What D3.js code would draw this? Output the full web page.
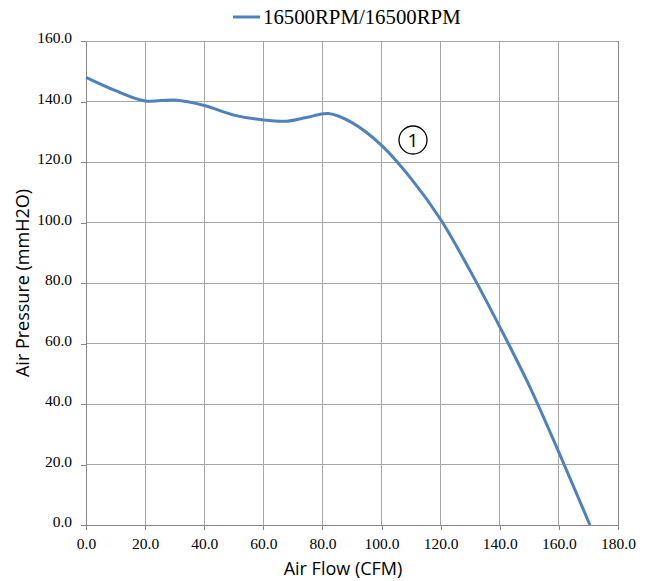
<!DOCTYPE html>
<html><head><meta charset="utf-8">
<script src="https://cdn.jsdelivr.net/npm/d3@7"></script>
<style>body{margin:0;background:#fff}</style>
</head><body>
<svg id="c" width="649" height="581"></svg>
<script>
const flow = [0, 10, 20, 30, 40, 50, 60, 68, 75, 82, 90, 100, 110, 120, 130, 140, 150, 160, 170.5];
const pressure = [148, 143.6, 140.2, 140.5, 138.7, 135.5, 133.9, 133.5, 134.8, 136, 133, 125.5, 114.5, 101, 84, 65.5, 46, 24, 0];
const xTicks = [0, 20, 40, 60, 80, 100, 120, 140, 160, 180];
const yTicks = [0, 20, 40, 60, 80, 100, 120, 140, 160];
const seriesName = "16500RPM/16500RPM";

const svg = d3.select("#c");
const L = 86, R = 618, T = 41, B = 525;
const x = d3.scaleLinear().domain([0, 180]).range([L, R]);
const y = d3.scaleLinear().domain([0, 160]).range([B, T]);

// grid
svg.append("g").selectAll("line").data(xTicks.slice(1)).join("line")
  .attr("x1", d => x(d)).attr("x2", d => x(d)).attr("y1", T).attr("y2", B)
  .attr("stroke", "#a6a6a6").attr("stroke-width", 1).attr("shape-rendering", "crispEdges");
svg.append("g").selectAll("line").data(yTicks.slice(1)).join("line")
  .attr("x1", L).attr("x2", R).attr("y1", d => y(d)).attr("y2", d => y(d))
  .attr("stroke", "#a6a6a6").attr("stroke-width", 1).attr("shape-rendering", "crispEdges");

// axes
const xa = svg.append("g").attr("transform", `translate(0,${B})`)
  .call(d3.axisBottom(x).tickValues(xTicks).tickFormat(d3.format(".1f")).tickSize(5).tickSizeOuter(0));
const ya = svg.append("g").attr("transform", `translate(${L},0)`)
  .call(d3.axisLeft(y).tickValues(yTicks).tickFormat(d3.format(".1f")).tickSize(5).tickSizeOuter(0));
[xa, ya].forEach(a => {
  a.select(".domain").attr("stroke", "#868686").attr("shape-rendering", "crispEdges");
  a.selectAll(".tick line").attr("stroke", "#868686").attr("shape-rendering", "crispEdges");
  a.selectAll("text").attr("font-family", "Liberation Serif, serif").attr("font-size", 15.5).attr("fill", "#000");
});
xa.selectAll("text").attr("dy", "1.0em");
ya.selectAll("text").attr("dx", "-6").attr("dy", "0.1em");
// right border / top
svg.append("line").attr("x1", R).attr("x2", R).attr("y1", T).attr("y2", B)
  .attr("stroke", "#868686").attr("shape-rendering", "crispEdges");
svg.append("line").attr("x1", L).attr("x2", R).attr("y1", T).attr("y2", T)
  .attr("stroke", "#a6a6a6").attr("shape-rendering", "crispEdges");

// curve
const data = flow.map((f, i) => [f, pressure[i]]);
svg.append("path").datum(data)
  .attr("d", d3.line().x(d => x(d[0])).y(d => y(d[1])).curve(d3.curveCatmullRom.alpha(0.5)))
  .attr("fill", "none").attr("stroke", "#4f81bd").attr("stroke-width", 3);

// annotation
svg.append("circle").attr("cx", 413).attr("cy", 140).attr("r", 14)
  .attr("fill", "none").attr("stroke", "#000").attr("stroke-width", 1.3);
svg.append("text").attr("x", 413).attr("y", 147).attr("text-anchor", "middle")
  .attr("font-family", "Open Sans, sans-serif").attr("font-size", 19).text("1");

// legend
svg.append("line").attr("x1", 233).attr("x2", 260).attr("y1", 17).attr("y2", 17)
  .attr("stroke", "#4f81bd").attr("stroke-width", 3);
svg.append("text").attr("x", 263).attr("y", 24).attr("font-family", "Liberation Serif, serif")
  .attr("font-size", 20.8).text(seriesName);

// axis titles
svg.append("text").attr("x", 343).attr("y", 575).attr("text-anchor", "middle")
  .attr("font-family", "Open Sans, sans-serif").attr("font-size", 18).text("Air Flow (CFM)");
svg.append("text").attr("transform", "translate(29,283) rotate(-90)").attr("text-anchor", "middle")
  .attr("font-family", "Open Sans, sans-serif").attr("font-size", 18).text("Air Pressure (mmH2O)");
</script>
</body></html>
